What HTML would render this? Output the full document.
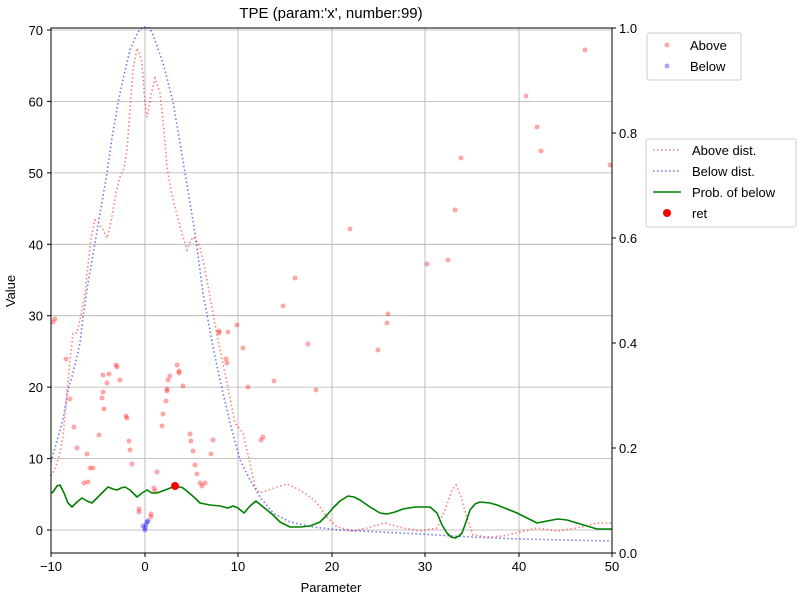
<!DOCTYPE html>
<html><head><meta charset="utf-8"><style>
body{margin:0;background:#fff}
svg{display:block;font-family:"Liberation Sans","DejaVu Sans",sans-serif}
</style></head><body>
<svg width="800" height="600" viewBox="0 0 800 600">
<rect width="800" height="600" fill="#fff"/>
<g stroke="#b0b0b0" stroke-width="0.8">
<line x1="145" y1="28" x2="145" y2="553"/><line x1="238" y1="28" x2="238" y2="553"/><line x1="332" y1="28" x2="332" y2="553"/><line x1="425" y1="28" x2="425" y2="553"/><line x1="519" y1="28" x2="519" y2="553"/>
<line x1="51" y1="530" x2="612" y2="530"/><line x1="51" y1="458.6" x2="612" y2="458.6"/><line x1="51" y1="387.1" x2="612" y2="387.1"/><line x1="51" y1="315.7" x2="612" y2="315.7"/><line x1="51" y1="244.3" x2="612" y2="244.3"/><line x1="51" y1="172.9" x2="612" y2="172.9"/><line x1="51" y1="101.4" x2="612" y2="101.4"/><line x1="51" y1="30" x2="612" y2="30"/>
</g>
<g fill="#ff0000" fill-opacity="0.35">
<circle cx="53" cy="322" r="2.5"/><circle cx="55" cy="319" r="2.5"/><circle cx="66" cy="359" r="2.5"/><circle cx="70" cy="399" r="2.5"/><circle cx="74" cy="427" r="2.5"/><circle cx="77" cy="448" r="2.5"/><circle cx="84" cy="483" r="2.5"/><circle cx="87" cy="454" r="2.5"/><circle cx="88" cy="482" r="2.5"/><circle cx="90" cy="468" r="2.5"/><circle cx="93" cy="468" r="2.5"/><circle cx="99" cy="435" r="2.5"/><circle cx="102" cy="398" r="2.5"/><circle cx="103" cy="392" r="2.5"/><circle cx="103" cy="375" r="2.5"/><circle cx="104" cy="409" r="2.5"/><circle cx="107" cy="383" r="2.5"/><circle cx="109" cy="374" r="2.5"/><circle cx="116" cy="365" r="2.5"/><circle cx="117" cy="367" r="2.5"/><circle cx="120" cy="380" r="2.5"/><circle cx="126" cy="416" r="2.5"/><circle cx="127" cy="418" r="2.5"/><circle cx="129" cy="441" r="2.5"/><circle cx="130" cy="450" r="2.5"/><circle cx="132" cy="464" r="2.5"/><circle cx="139" cy="509" r="2.5"/><circle cx="139" cy="512" r="2.5"/><circle cx="151" cy="514" r="2.5"/><circle cx="151" cy="517" r="2.5"/><circle cx="154" cy="488" r="2.5"/><circle cx="155" cy="491" r="2.5"/><circle cx="157" cy="472" r="2.5"/><circle cx="162" cy="426" r="2.5"/><circle cx="163" cy="414" r="2.5"/><circle cx="166" cy="401" r="2.5"/><circle cx="167" cy="389" r="2.5"/><circle cx="167" cy="391" r="2.5"/><circle cx="168" cy="380" r="2.5"/><circle cx="170" cy="376" r="2.5"/><circle cx="177" cy="365" r="2.5"/><circle cx="179" cy="371" r="2.5"/><circle cx="179" cy="373" r="2.5"/><circle cx="183" cy="386" r="2.5"/><circle cx="190" cy="434" r="2.5"/><circle cx="191" cy="441" r="2.5"/><circle cx="193" cy="451" r="2.5"/><circle cx="195" cy="465" r="2.5"/><circle cx="197" cy="474" r="2.5"/><circle cx="200" cy="483" r="2.5"/><circle cx="202" cy="486" r="2.5"/><circle cx="205" cy="483" r="2.5"/><circle cx="211" cy="454" r="2.5"/><circle cx="213" cy="440" r="2.5"/><circle cx="219" cy="331" r="2.5"/><circle cx="219" cy="333" r="2.5"/><circle cx="226" cy="359" r="2.5"/><circle cx="227" cy="363" r="2.5"/><circle cx="228" cy="332" r="2.5"/><circle cx="237" cy="325" r="2.5"/><circle cx="243" cy="348" r="2.5"/><circle cx="248" cy="387" r="2.5"/><circle cx="261" cy="440" r="2.5"/><circle cx="263" cy="437" r="2.5"/><circle cx="274" cy="381" r="2.5"/><circle cx="283" cy="306" r="2.5"/><circle cx="295" cy="278" r="2.5"/><circle cx="308" cy="344" r="2.5"/><circle cx="316" cy="390" r="2.5"/><circle cx="350" cy="229" r="2.5"/><circle cx="378" cy="350" r="2.5"/><circle cx="387" cy="323" r="2.5"/><circle cx="388" cy="314" r="2.5"/><circle cx="427" cy="264" r="2.5"/><circle cx="448" cy="260" r="2.5"/><circle cx="455" cy="210" r="2.5"/><circle cx="461" cy="158" r="2.5"/><circle cx="526" cy="96" r="2.5"/><circle cx="537" cy="127" r="2.5"/><circle cx="541" cy="151" r="2.5"/><circle cx="585" cy="50" r="2.5"/><circle cx="610" cy="165" r="2.5"/>
</g>
<g fill="#0000ff" fill-opacity="0.35">
<circle cx="143" cy="526" r="2.5"/><circle cx="145" cy="528" r="2.5"/><circle cx="146" cy="525" r="2.5"/><circle cx="147" cy="522" r="2.5"/><circle cx="148" cy="521" r="2.5"/><circle cx="145" cy="530" r="2.5"/>
</g>
<polyline fill="none" stroke="#0000ff" stroke-opacity="0.55" stroke-width="1.6" stroke-dasharray="1.5,2.5" points="51,462 53,455 58,437 63,420 68,390 73,373 80,343 83,317 88,283 95,243 101,208 107,173 112,138 118,103 124,75 130,50 135,38 140,29 145,27 150,28 156,43 163,63 168,82 173,102 179,137 185,173 190,203 195,233 203,293 208,320 213,347 220,380 230,423 240,460 250,480 260,497 273,513 290,522 313,527 340,530 380,532 420,534 470,537 520,539 612,541"/>
<polyline fill="none" stroke="#ff0000" stroke-opacity="0.5" stroke-width="1.6" stroke-dasharray="1.5,2.5" points="51,476 53,473 57,463 60,452 63,437 67,393 70,360 73,333 77,333 82,310 85,293 88,265 91,238 95,220 98,222 103,230 107,238 111,222 116,193 120,177 124,168 127,150 130,110 133,70 137,48 140,55 142,63 145,103 147,117 151,95 155,78 160,93 164,130 167,167 171,190 175,207 181,230 187,250 190,242 193,237 197,242 200,247 205,270 210,297 218,340 227,383 235,423 243,433 250,463 255,487 260,493 268,490 277,487 287,484 300,490 310,497 317,503 327,517 337,527 353,531 367,528 385,523 403,528 420,531 437,528 445,510 452,490 456,485 461,497 467,518 473,535 487,537 503,536 520,532 537,528 557,531 577,528 597,523 612,523"/>
<polyline fill="none" stroke="#008000" stroke-width="1.6" stroke-linejoin="round" points="51,493 53,492 57,486 60,485 64,493 68,503 72,507 77,502 82,498 87,501 92,503 100,495 108,487 113,489 117,490 121,488 125,487 130,490 137,497 142,493 147,490 152,493 157,493 165,490 173,487 180,487 183,488 188,492 195,498 200,503 210,505 220,506 228,508 233,506 238,508 244,513 250,506 256,501 262,506 267,510 273,515 280,522 290,527 300,527 310,526 320,522 327,515 333,508 340,501 348,496 354,497 360,500 370,507 380,513 387,514 395,512 403,509 415,507 430,507 437,513 442,525 447,533 451,537 455,538 459,536 462,533 466,522 470,510 475,504 480,502 490,503 497,505 507,509 517,513 527,518 537,523 547,521 558,519 567,520 577,523 587,526 597,529 612,529"/>
<circle cx="175" cy="486" r="4" fill="#ff0000"/>
<rect x="51" y="28" width="561" height="525" fill="none" stroke="#000" stroke-width="1"/>
<g stroke="#000" stroke-width="1">
<line x1="51" y1="553" x2="51" y2="557"/><line x1="145" y1="553" x2="145" y2="557"/><line x1="238" y1="553" x2="238" y2="557"/><line x1="332" y1="553" x2="332" y2="557"/><line x1="425" y1="553" x2="425" y2="557"/><line x1="519" y1="553" x2="519" y2="557"/><line x1="612" y1="553" x2="612" y2="557"/>
<line x1="47" y1="530" x2="51" y2="530"/><line x1="47" y1="458.6" x2="51" y2="458.6"/><line x1="47" y1="387.1" x2="51" y2="387.1"/><line x1="47" y1="315.7" x2="51" y2="315.7"/><line x1="47" y1="244.3" x2="51" y2="244.3"/><line x1="47" y1="172.9" x2="51" y2="172.9"/><line x1="47" y1="101.4" x2="51" y2="101.4"/><line x1="47" y1="30" x2="51" y2="30"/>
<line x1="612" y1="553" x2="616" y2="553"/><line x1="612" y1="448" x2="616" y2="448"/><line x1="612" y1="343" x2="616" y2="343"/><line x1="612" y1="238" x2="616" y2="238"/><line x1="612" y1="133" x2="616" y2="133"/><line x1="612" y1="28" x2="616" y2="28"/>
</g>
<g font-size="13" fill="#000" text-anchor="middle">
<text x="51" y="571">−10</text><text x="145" y="571">0</text><text x="238" y="571">10</text><text x="332" y="571">20</text><text x="425" y="571">30</text><text x="519" y="571">40</text><text x="612" y="571">50</text>
<text x="331" y="592">Parameter</text>
<text x="331" y="18" font-size="15">TPE (param:'x', number:99)</text>
</g>
<g font-size="13" fill="#000" text-anchor="end">
<text x="43" y="535">0</text><text x="43" y="463.6">10</text><text x="43" y="392.1">20</text><text x="43" y="320.7">30</text><text x="43" y="249.3">40</text><text x="43" y="177.9">50</text><text x="43" y="106.4">60</text><text x="43" y="35">70</text>
</g>
<text x="15" y="291" font-size="13" text-anchor="middle" transform="rotate(-90 15 291)">Value</text>
<g font-size="13" fill="#000">
<text x="619" y="558">0.0</text><text x="619" y="453">0.2</text><text x="619" y="348">0.4</text><text x="619" y="243">0.6</text><text x="619" y="138">0.8</text><text x="619" y="33">1.0</text>
</g>
<rect x="647" y="33" width="94" height="47" rx="2" fill="#fff" stroke="#ccc"/>
<circle cx="667" cy="45" r="2.5" fill="#ff0000" fill-opacity="0.35"/>
<circle cx="667" cy="66" r="2.5" fill="#0000ff" fill-opacity="0.35"/>
<text x="690" y="50" font-size="13">Above</text>
<text x="690" y="71" font-size="13">Below</text>
<rect x="646" y="139" width="150" height="88" rx="2" fill="#fff" stroke="#ccc"/>
<line x1="653" y1="150" x2="681" y2="150" stroke="#ff0000" stroke-opacity="0.5" stroke-width="1.6" stroke-dasharray="1.5,2.5"/>
<line x1="653" y1="171" x2="681" y2="171" stroke="#0000ff" stroke-opacity="0.55" stroke-width="1.6" stroke-dasharray="1.5,2.5"/>
<line x1="653" y1="192" x2="681" y2="192" stroke="#008000" stroke-width="1.6"/>
<circle cx="667" cy="213" r="4" fill="#ff0000"/>
<g font-size="13"><text x="692" y="155">Above dist.</text><text x="692" y="176">Below dist.</text><text x="692" y="197">Prob. of below</text><text x="692" y="218">ret</text></g>
</svg>
</body></html>
